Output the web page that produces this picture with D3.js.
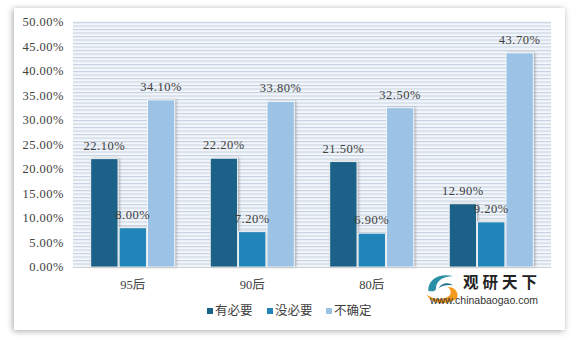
<!DOCTYPE html>
<html>
<head>
<meta charset="utf-8">
<script src="https://cdn.jsdelivr.net/npm/d3@7"></script>
<style>
  body { margin: 0; background: #fff; }
  svg { display: block; }
</style>
</head>
<body>
<svg id="chart"></svg>
<script>
// chart data
var categories = ["95后", "90后", "80后", "00后"];
var seriesNames = ["有必要", "没必要", "不确定"];
var needed = [22.1, 22.2, 21.5, 12.9];
var notNeeded = [8.0, 7.2, 6.9, 9.2];
var unsure = [34.1, 33.8, 32.5, 43.7];
var yTicks = [0, 5, 10, 15, 20, 25, 30, 35, 40, 45, 50];

var colors = ["#1b6288", "#2285ba", "#9cc3e6"];
var seriesValues = [needed, notNeeded, unsure];

var W = 575, H = 341;
var plot = { left: 73, right: 551, top: 22, bottom: 267 };

var svg = d3.select("#chart").attr("width", W).attr("height", H);
var defs = svg.append("defs");

// panel shadow
var f = defs.append("filter").attr("id", "panelShadow")
  .attr("x", "-5%").attr("y", "-5%").attr("width", "110%").attr("height", "110%");
f.append("feDropShadow").attr("dx", -1).attr("dy", 1).attr("stdDeviation", 3)
  .attr("flood-color", "#888").attr("flood-opacity", 0.75);

var bf = defs.append("filter").attr("id", "barShadow")
  .attr("x", "-20%").attr("y", "-10%").attr("width", "150%").attr("height", "120%");
bf.append("feDropShadow").attr("dx", 1.5).attr("dy", 0).attr("stdDeviation", 1)
  .attr("flood-color", "#666").attr("flood-opacity", 0.45);

// horizontal hatch pattern for plot area
var pat = defs.append("pattern").attr("id", "hatch")
  .attr("patternUnits", "userSpaceOnUse")
  .attr("width", 8).attr("height", 3.5)
  .attr("y", plot.top);
pat.append("rect").attr("width", 8).attr("height", 3.5).attr("fill", "#f3f6fa");
pat.append("rect").attr("y", 0).attr("width", 8).attr("height", 1.1).attr("fill", "#c6d2e2");

svg.append("rect")
  .attr("x", 14).attr("y", 8).attr("width", 551).attr("height", 322)
  .attr("fill", "#fff")
  .attr("filter", "url(#panelShadow)");

var x0 = d3.scaleBand().domain(categories).range([plot.left, plot.right]);
var x1 = d3.scaleBand().domain(d3.range(seriesNames.length))
  .range([0, 84]).paddingInner(0.04);
var y = d3.scaleLinear().domain([0, 50]).range([plot.bottom, plot.top]);

svg.append("rect")
  .attr("x", plot.left).attr("y", plot.top - 1)
  .attr("width", plot.right - plot.left).attr("height", plot.bottom - plot.top + 1)
  .attr("fill", "url(#hatch)");

// y axis labels
svg.append("g").selectAll("text")
  .data(yTicks)
  .enter().append("text")
  .attr("x", 64)
  .attr("y", function(d) { return y(d); })
  .attr("dy", "0.35em")
  .attr("text-anchor", "end")
  .attr("font-family", "Liberation Serif, serif")
  .attr("font-size", 12.5)
  .attr("letter-spacing", 0.5)
  .attr("fill", "#404040")
  .text(function(d) { return d.toFixed(2) + "%"; });

// bars
var groups = svg.append("g").selectAll("g")
  .data(categories)
  .enter().append("g")
  .attr("transform", function(d) {
    return "translate(" + (x0(d) + x0.bandwidth() / 2 - 42) + ",0)";
  });

groups.selectAll("rect")
  .data(function(d, i) {
    return seriesValues.map(function(s, k) { return { k: k, v: s[i] }; });
  })
  .enter().append("rect")
  .attr("x", function(d) { return x1(d.k); })
  .attr("width", x1.bandwidth())
  .attr("y", function(d) { return y(d.v); })
  .attr("height", function(d) { return plot.bottom - y(d.v); })
  .attr("fill", function(d) { return colors[d.k]; })
  .attr("stroke", "#fff").attr("stroke-width", 0.8)
  .attr("filter", "url(#barShadow)");

groups.selectAll("text")
  .data(function(d, i) {
    return seriesValues.map(function(s, k) { return { k: k, v: s[i] }; });
  })
  .enter().append("text")
  .attr("x", function(d) { return x1(d.k) + x1.bandwidth() / 2; })
  .attr("y", function(d) { return y(d.v) - 9; })
  .attr("text-anchor", "middle")
  .attr("font-family", "Liberation Serif, serif")
  .attr("font-size", 12.5)
  .attr("letter-spacing", 0.5)
  .attr("fill", "#404040")
  .text(function(d) { return d.v.toFixed(2) + "%"; });

// x axis baseline
svg.append("line")
  .attr("x1", plot.left).attr("x2", plot.right)
  .attr("y1", plot.bottom + 0.5).attr("y2", plot.bottom + 0.5)
  .attr("stroke", "#d0d0d0");

svg.append("g").selectAll("text")
  .data(categories)
  .enter().append("text")
  .attr("x", function(d) { return x0(d) + x0.bandwidth() / 2; })
  .attr("y", 289)
  .attr("text-anchor", "middle")
  .attr("font-family", "Liberation Serif, Noto Sans CJK SC, serif")
  .attr("font-size", 12.5)
  .attr("fill", "#404040")
  .text(function(d) { return d; });

// legend
var legendX = [207, 267, 326];
var legend = svg.append("g").selectAll("g")
  .data(seriesNames)
  .enter().append("g")
  .attr("transform", function(d, i) { return "translate(" + legendX[i] + ",311)"; });
legend.append("rect")
  .attr("x", 0).attr("y", -3).attr("width", 6).attr("height", 6)
  .attr("fill", function(d, i) { return colors[i]; });
legend.append("text")
  .attr("x", 8).attr("dy", "0.35em")
  .attr("font-family", "Noto Sans CJK SC, sans-serif")
  .attr("font-size", 12.5)
  .attr("fill", "#404040")
  .text(function(d) { return d; });

// watermark (covers the last category label, as in the source image)
var wm = svg.append("g").attr("transform", "translate(423,270)");
wm.append("rect").attr("x", 0).attr("y", 0).attr("width", 122).attr("height", 36).attr("fill", "#fff");
var logo = wm.append("g").attr("transform", "translate(0,0) scale(1.3)");
logo.append("path")
  .attr("d", "M4,16 C4,6 14,2 24,5 C17,4 10,8 10,14 C10,16 8,17 4,16 Z")
  .attr("fill", "#2b8fa8");
logo.append("path")
  .attr("d", "M3,19 C6,26 18,28 26,22 C28,18 25,13 19,13 C23,16 22,21 15,22 C10,23 6,21 3,19 Z")
  .attr("fill", "#f39a1e");
logo.append("path")
  .attr("d", "M12,14 C14,10 20,9 23,12 C19,11 15,12 12,14 Z")
  .attr("fill", "#1a6f8a");
wm.append("text")
  .attr("x", 40).attr("y", 18)
  .attr("font-family", "Noto Sans CJK SC, sans-serif")
  .attr("font-weight", "bold")
  .attr("font-size", 15.5)
  .attr("letter-spacing", 4)
  .attr("fill", "#222")
  .text("观研天下");
wm.append("text")
  .attr("x", 61).attr("y", 34)
  .attr("text-anchor", "middle")
  .attr("font-family", "Liberation Sans, Arial, sans-serif")
  .attr("font-size", 10.5)
  .attr("fill", "#333")
  .text("www.chinabaogao.com");
</script>
</body>
</html>
